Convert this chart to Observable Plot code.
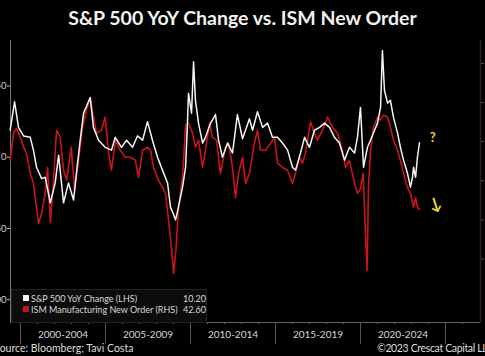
<!DOCTYPE html>
<html>
<head>
<meta charset="utf-8">
<script src="https://cdn.jsdelivr.net/npm/d3@7"></script>
<script src="https://cdn.jsdelivr.net/npm/@observablehq/plot@0.6"></script>
<style>
  html, body { margin: 0; padding: 0; background: #000; width: 485px; height: 356px; overflow: hidden; }
  body { position: relative; font-family: Lato, "Open Sans", sans-serif; color: #e6e6e6; }
  #title { position: absolute; left: 0; top: 6px; width: 485px; text-align: center; font-size: 19.5px; font-weight: 700; color: #f2f2f2; }
  #chart { position: absolute; left: 0; top: 40px; }
  #legend { position: absolute; left: 11px; top: 289px; width: 194px; height: 32px; background: #0c0c0c; border: 1px solid #222; font-size: 9px; color: #d8d8d8; }
  .row { position: absolute; left: 11px; width: 183px; height: 11px; line-height: 11px; white-space: nowrap; }
  .row .sw { position: absolute; left: 0; top: 2px; width: 6px; height: 6px; }
  .row .lb { position: absolute; left: 8px; }
  .row .vl { position: absolute; right: 0; }
  #src { position: absolute; left: -6px; top: 342px; font-size: 10.5px; color: #dcdcdc; white-space: nowrap; }
  #copy { position: absolute; left: 377px; top: 342px; font-size: 10.5px; letter-spacing: -0.35px; color: #dcdcdc; white-space: nowrap; }
</style>
</head>
<body>
<div id="title">S&amp;P 500 YoY Change vs. ISM New Order</div>
<div id="chart"></div>
<div id="legend"></div>
<div id="src">Source: Bloomberg; Tavi Costa</div>
<div id="copy">©2023 Crescat Capital LLC</div>
<script>
// ---- Data ----
const spxYears = [1999.39,1999.65,1999.88,2000.18,2000.57,2000.76,2000.94,2001.24,2001.45,2001.75,2002.04,2002.24,2002.53,2002.82,2003.12,2003.29,2003.51,2003.71,2004.10,2004.29,2004.59,2004.98,2005.35,2005.57,2005.94,2006.24,2006.59,2006.88,2007.18,2007.47,2007.76,2008.06,2008.35,2008.65,2008.82,2009.00,2009.12,2009.29,2009.53,2009.71,2009.82,2009.88,2010.06,2010.18,2010.29,2010.47,2010.71,2010.88,2011.18,2011.47,2011.65,2011.88,2012.18,2012.47,2012.76,2013.06,2013.47,2013.65,2013.94,2014.24,2014.53,2014.82,2015.12,2015.41,2015.71,2016.00,2016.18,2016.47,2016.71,2017.00,2017.29,2017.59,2017.88,2018.18,2018.47,2018.76,2019.06,2019.35,2019.65,2019.82,2020.00,2020.18,2020.41,2020.59,2020.76,2021.00,2021.18,2021.29,2021.41,2021.59,2021.76,2021.94,2022.18,2022.35,2022.53,2022.76,2022.94,2023.06,2023.12,2023.24,2023.35,2023.47];
const spxYoY = [19,39,21,15,14,5,-7,-15,-14,-32,-18,1.5,-32,-18,-30,-11,12,31,42,21,12,7,5,14,7,12,7,15,12,25,12,0,-9,-18,-35,-40,-44,-35,-21,-7,24,45,31,67,40,24,10,14,24,30,12,0,10,3,30,13,27,19,32,21,24,14,14,10,5,-7,-9,3,14,7,19,21,24,21,14,10,-2,7,3,14,35,-7,7,12,17,24,35,75,47,38,40,28,17,7,-2,-11,-21,-14,-7,-14,0,10.2];

const ismYears = [1999.39,1999.59,1999.76,1999.98,2000.18,2000.35,2000.57,2000.76,2000.94,2001.06,2001.24,2001.45,2001.59,2001.76,2001.94,2002.12,2002.34,2002.53,2002.71,2002.98,2003.18,2003.41,2003.65,2003.88,2004.10,2004.29,2004.47,2004.76,2004.98,2005.18,2005.35,2005.59,2005.86,2006.16,2006.47,2006.76,2006.94,2007.18,2007.47,2007.65,2007.82,2008.12,2008.35,2008.53,2008.71,2008.88,2009.00,2009.16,2009.29,2009.53,2009.71,2009.88,2010.12,2010.29,2010.47,2010.71,2010.88,2011.12,2011.29,2011.53,2011.76,2012.06,2012.24,2012.47,2012.65,2012.82,2013.06,2013.24,2013.47,2013.76,2013.94,2014.12,2014.41,2014.71,2014.94,2015.12,2015.41,2015.71,2016.00,2016.18,2016.41,2016.59,2016.76,2017.06,2017.29,2017.47,2017.76,2018.06,2018.35,2018.65,2018.94,2019.12,2019.35,2019.65,2019.82,2020.00,2020.16,2020.29,2020.39,2020.47,2020.59,2020.76,2021.00,2021.18,2021.35,2021.59,2021.76,2021.94,2022.18,2022.35,2022.53,2022.76,2022.94,2023.12,2023.24,2023.35,2023.47];
const ismNewOrders = [55.2,62.2,63.4,61.1,58.6,57,51.9,49.3,43.2,39.1,41.6,46.8,53.4,39.3,50.1,62.9,61.1,52.7,50.1,58.6,47.5,55.2,63.7,68.1,71.1,66.3,62.2,62.9,66.3,57,52.7,60.4,57.8,56,56,55.2,50.9,57.8,58.6,57.8,53.4,50.1,48.3,46.8,39.8,33,26.3,33,43.2,50.9,64.2,64.7,62.2,58.6,60.4,53.4,57.8,64.7,61.1,60.4,51.9,58.6,59.6,53.4,45.7,51.9,56,49.3,51.9,59.6,62.9,57.8,57.8,59.6,61.1,54.5,53.4,52.7,49.3,51.9,56,54.5,57,65,62.2,60.4,62.9,66.3,63.7,62.2,57.8,53.4,55.2,49.3,46.8,47.9,51.9,36.5,27,48.3,57.8,63.7,66.3,65.5,66.8,66.3,63.7,60.4,57.8,55.2,51.9,48.3,46.8,43.2,45.7,43.2,42.6];

const leftTicks = [-100, -50, 0, 50];
const rightTicks = [30, 40, 50, 60, 70, 80];
const periodLabels = ["2000-2004", "2005-2009", "2010-2014", "2015-2019", "2020-2024"];
const periodStarts = [2000, 2005, 2010, 2015, 2020, 2025];
const yearTicks = d3.range(2000, 2027);
const annotations = [{text: "?", year: 2024.25, value: 14, size: 13}, {text: "↓", year: 2024.4, value: -33, size: 17}];

// ---- Build tables ----
const spx = spxYears.map((t, i) => ({t, v: spxYoY[i]}));
const ism = ismYears.map((t, i) => ({t, v: ismNewOrders[i]}));
// RHS (ISM) -> LHS (S&P YoY %) alignment of the dual axis
const ismToLeft = (x) => -16.48 + (x - 50) * 2.746;

const xDomain = [1999.41, 2027.06];
const yDomain = [-116, 82];

const chart = Plot.plot({
  width: 485,
  height: 316,
  marginLeft: 10,
  marginRight: 5,
  marginTop: 0,
  marginBottom: 34,
  style: {background: "#000", color: "#d8d8d8", fontFamily: "Lato, 'Open Sans', sans-serif", overflow: "visible"},
  x: {domain: xDomain},
  y: {domain: yDomain},
  marks: [
    // left axis
    Plot.axisY({ticks: leftTicks, anchor: "left", tickSize: 3, tickPadding: 1, fontSize: 9.5, stroke: "#bbb", fill: "#cfcfcf", tickFormat: d => d}),
    Plot.ruleX([xDomain[0]], {stroke: "#777", strokeWidth: 1}),
    // right axis (ISM)
    Plot.ruleX([xDomain[1]], {stroke: "#3a1c1c", strokeWidth: 1.5}),
    Plot.axisY(rightTicks.map(ismToLeft), {anchor: "right", tickSize: 3, stroke: "#555", fill: "#888", tickFormat: d => ""}),
    // x axis
    Plot.ruleY([yDomain[0]], {stroke: "#666", strokeWidth: 1}),
    Plot.axisX(yearTicks, {anchor: "bottom", tickSize: 2, tickFormat: () => "", stroke: "#666"}),
    Plot.axisX(periodStarts, {anchor: "bottom", tickSize: 22, tickFormat: () => "", stroke: "#555"}),
    Plot.axisX(periodStarts.slice(0, 5).map(d => d + 2.5), {anchor: "bottom", tickSize: 0, tickPadding: 8, fontSize: 10, fill: "#d8d8d8", tickFormat: (d, i) => periodLabels[i]}),
    // series
    Plot.line(ism, {x: "t", y: d => ismToLeft(d.v), stroke: "#c8141b", strokeWidth: 1.6}),
    Plot.line(spx, {x: "t", y: "v", stroke: "#f4f4f4", strokeWidth: 1.5}),
    // annotations
    Plot.text(annotations, {x: "year", y: "value", text: "text", fill: "#e8d830", fontSize: "size", fontWeight: "bold", rotate: (d) => d.text === "?" ? 0 : -18})
  ]
});
document.getElementById("chart").appendChild(chart);

// legend
const legendRows = [
  {label: "S&P 500 YoY Change (LHS)", color: "#f4f4f4", value: spxYoY[spxYoY.length - 1]},
  {label: "ISM Manufacturing New Order (RHS)", color: "#c8141b", value: ismNewOrders[ismNewOrders.length - 1]}
];
const lg = document.getElementById("legend");
legendRows.forEach((r, i) => {
  const row = document.createElement("div");
  row.className = "row";
  row.style.top = (3 + i * 10.5) + "px";
  row.innerHTML = `<span class="sw" style="background:${r.color}"></span><span class="lb"></span><span class="vl"></span>`;
  row.querySelector(".lb").textContent = r.label;
  row.querySelector(".vl").textContent = r.value.toFixed(2);
  lg.appendChild(row);
});
</script>
</body>
</html>
